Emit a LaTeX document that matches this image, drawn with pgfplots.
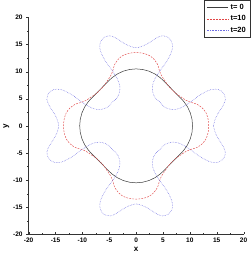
\documentclass[border=0pt]{standalone}
\usepackage{fontspec}
\setmainfont{Liberation Sans}
\usepackage{pgfplots}
\pgfplotsset{compat=1.18}
\definecolor{cred}{RGB}{225,70,70}
\definecolor{cblue}{RGB}{110,110,225}
\definecolor{cblack}{RGB}{60,60,60}
\begin{document}
\begin{tikzpicture}
\begin{axis}[
  scale only axis,
  width=214pt, height=216pt,
  xmin=-20, xmax=20, ymin=-20, ymax=20,
  axis lines*=left,
  axis line style={line width=0.5pt, black!80},
  xtick={-20,-15,...,20}, ytick={-20,-15,...,20},
  minor tick num=1,
  major tick length=2.5pt, minor tick length=1.5pt,
  tick style={black!80},
  xtick align=inside, ytick align=outside,
  tick label style={font=\fontsize{6.5}{7}\selectfont\bfseries},
  /pgf/number format/assume math mode=true,
  xlabel={\bfseries x}, ylabel={\bfseries y},
  label style={font=\fontsize{8}{9}\selectfont},
  xlabel style={yshift=2pt},
  ylabel style={yshift=-3pt},
  legend style={at={(1.03,1.08)}, anchor=north east, draw=black!80, line width=0.5pt,
    font=\fontsize{7.5}{8}\selectfont\bfseries, inner sep=2pt, row sep=0.5pt,
    legend cell align=left},
  legend image code/.code={\draw[#1] (0cm,0cm) -- (0.75cm,0cm);},
  clip=false,
]
\addplot[cblack, line width=0.5pt] coordinates {
(8.45,-4.95)(8.862,-4.5)(9.562,-3.5)(10.078,-2.394)(10.394,-1.215)(10.5,0)(10.394,1.215)(10.078,2.394)(9.562,3.5)(8.862,4.5)(8.45,4.95)
(4.95,8.45)(4.5,8.862)(3.5,9.562)(2.394,10.078)(1.215,10.394)(0,10.5)(-1.215,10.394)(-2.394,10.078)(-3.5,9.562)(-4.5,8.862)(-4.95,8.45)
(-8.45,4.95)(-8.862,4.5)(-9.562,3.5)(-10.078,2.394)(-10.394,1.215)(-10.5,0)(-10.394,-1.215)(-10.078,-2.394)(-9.562,-3.5)(-8.862,-4.5)(-8.45,-4.95)
(-4.95,-8.45)(-4.5,-8.862)(-3.5,-9.562)(-2.394,-10.078)(-1.215,-10.394)(0,-10.5)(1.215,-10.394)(2.394,-10.078)(3.5,-9.562)(4.5,-8.862)(4.95,-8.45)
(8.45,-4.95)
};
\addlegendentry{t= 0}
\addplot[cred, dash pattern=on 1.8pt off 1.2pt, line width=0.45pt, smooth, tension=0.5] coordinates {
(13.5,0)(13.4,1.2)(13.0,2.4)(12.3,3.3)(11.3,4.0)(10.3,4.3)(9.3,4.7)(8.4,5.3)(7.5,5.9)(6.65,6.65)(5.9,7.5)(5.3,8.4)(4.7,9.3)(4.3,10.3)(4.0,11.3)(3.3,12.3)(2.4,13.0)(1.2,13.4)(0,13.5)
(-1.2,13.4)(-2.4,13.0)(-3.3,12.3)(-4.0,11.3)(-4.3,10.3)(-4.7,9.3)(-5.3,8.4)(-5.9,7.5)(-6.65,6.65)(-7.5,5.9)(-8.4,5.3)(-9.3,4.7)(-10.3,4.3)(-11.3,4.0)(-12.3,3.3)(-13.0,2.4)(-13.4,1.2)(-13.5,0)
(-13.4,-1.2)(-13.0,-2.4)(-12.3,-3.3)(-11.3,-4.0)(-10.3,-4.3)(-9.3,-4.7)(-8.4,-5.3)(-7.5,-5.9)(-6.65,-6.65)(-5.9,-7.5)(-5.3,-8.4)(-4.7,-9.3)(-4.3,-10.3)(-4.0,-11.3)(-3.3,-12.3)(-2.4,-13.0)(-1.2,-13.4)(0,-13.5)
(1.2,-13.4)(2.4,-13.0)(3.3,-12.3)(4.0,-11.3)(4.3,-10.3)(4.7,-9.3)(5.3,-8.4)(5.9,-7.5)(6.65,-6.65)(7.5,-5.9)(8.4,-5.3)(9.3,-4.7)(10.3,-4.3)(11.3,-4.0)(12.3,-3.3)(13.0,-2.4)(13.4,-1.2)(13.5,0)
};
\addlegendentry{t=10}
\addplot[cblue, dash pattern=on 0.6pt off 1pt, line width=0.5pt, smooth, tension=0.5] coordinates {
(14.4,0)(14.7,1.2)(15.3,2.4)(16.1,3.6)(16.6,4.8)(16.3,6.0)(15.3,6.7)(14.0,6.7)(12.8,6.2)(11.6,5.5)(10.4,4.6)(9.2,3.8)(8.0,3.2)(6.8,3.0)(5.6,3.3)(4.8,3.9)(4.4,4.4)(3.9,4.8)(3.3,5.6)(3.0,6.8)(3.2,8.0)(3.8,9.2)(4.6,10.4)(5.5,11.6)(6.2,12.8)(6.7,14.0)(6.7,15.3)(6.0,16.3)(4.8,16.6)(3.6,16.1)(2.4,15.3)(1.2,14.7)(0,14.4)
(-1.2,14.7)(-2.4,15.3)(-3.6,16.1)(-4.8,16.6)(-6.0,16.3)(-6.7,15.3)(-6.7,14.0)(-6.2,12.8)(-5.5,11.6)(-4.6,10.4)(-3.8,9.2)(-3.2,8.0)(-3.0,6.8)(-3.3,5.6)(-3.9,4.8)(-4.4,4.4)(-4.8,3.9)(-5.6,3.3)(-6.8,3.0)(-8.0,3.2)(-9.2,3.8)(-10.4,4.6)(-11.6,5.5)(-12.8,6.2)(-14.0,6.7)(-15.3,6.7)(-16.3,6.0)(-16.6,4.8)(-16.1,3.6)(-15.3,2.4)(-14.7,1.2)(-14.4,0)
(-14.7,-1.2)(-15.3,-2.4)(-16.1,-3.6)(-16.6,-4.8)(-16.3,-6.0)(-15.3,-6.7)(-14.0,-6.7)(-12.8,-6.2)(-11.6,-5.5)(-10.4,-4.6)(-9.2,-3.8)(-8.0,-3.2)(-6.8,-3.0)(-5.6,-3.3)(-4.8,-3.9)(-4.4,-4.4)(-3.9,-4.8)(-3.3,-5.6)(-3.0,-6.8)(-3.2,-8.0)(-3.8,-9.2)(-4.6,-10.4)(-5.5,-11.6)(-6.2,-12.8)(-6.7,-14.0)(-6.7,-15.3)(-6.0,-16.3)(-4.8,-16.6)(-3.6,-16.1)(-2.4,-15.3)(-1.2,-14.7)(0,-14.4)
(1.2,-14.7)(2.4,-15.3)(3.6,-16.1)(4.8,-16.6)(6.0,-16.3)(6.7,-15.3)(6.7,-14.0)(6.2,-12.8)(5.5,-11.6)(4.6,-10.4)(3.8,-9.2)(3.2,-8.0)(3.0,-6.8)(3.3,-5.6)(3.9,-4.8)(4.4,-4.4)(4.8,-3.9)(5.6,-3.3)(6.8,-3.0)(8.0,-3.2)(9.2,-3.8)(10.4,-4.6)(11.6,-5.5)(12.8,-6.2)(14.0,-6.7)(15.3,-6.7)(16.3,-6.0)(16.6,-4.8)(16.1,-3.6)(15.3,-2.4)(14.7,-1.2)(14.4,0)
};
\addlegendentry{t=20}
\end{axis}
\end{tikzpicture}
\end{document}
